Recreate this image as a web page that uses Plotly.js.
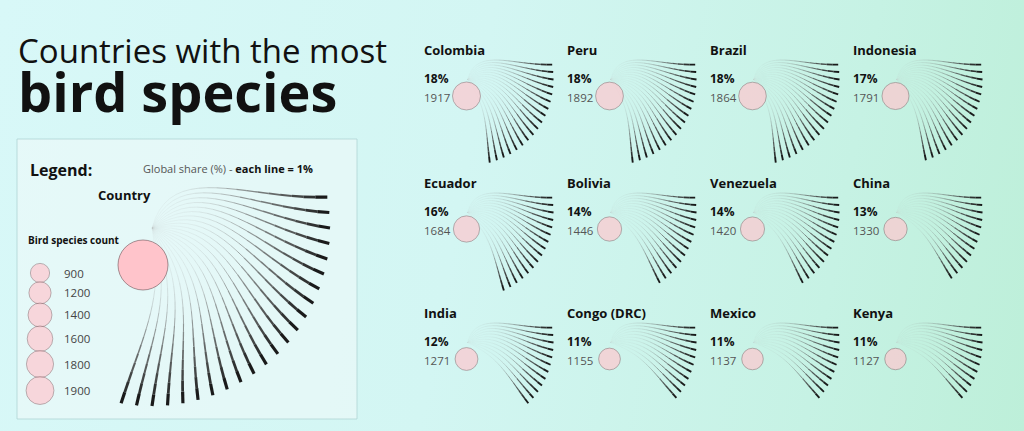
<!DOCTYPE html>
<html><head><meta charset="utf-8">
<script src="https://cdn.plot.ly/plotly-3.0.1.min.js"></script>
<style>
html,body{margin:0;padding:0;width:1024px;height:431px;overflow:hidden;}
body{background:linear-gradient(100deg,#d8f8f8 0%,#d3f6f3 45%,#c6f2e4 80%,#bdefd9 100%);}
#chart{width:1024px;height:431px;}
</style></head><body><div id="chart"></div>
<script>
// ---- data ----
const countries = ['Colombia','Peru','Brazil','Indonesia','Ecuador','Bolivia','Venezuela','China','India','Congo (DRC)','Mexico','Kenya'];
const sharePct = [18,18,18,17,16,14,14,13,12,11,11,11];
const speciesCount = [1917,1892,1864,1791,1684,1446,1420,1330,1271,1155,1137,1127];
const legendCounts = [900,1200,1400,1600,1800,1900];
const legendLineCount = 23;

// ---- layout constants ----
const FONT = '"Open Sans", "Noto Sans", sans-serif';
const colX = [422,565,708,851];
const rowY = [50,183,313];
const K = 20; // colour/width bands along each line
const SUB = 3;

function bez(p0,p1,p2,p3,t){const u=1-t;return u*u*u*p0+3*u*u*t*p1+3*u*t*t*p2+t*t*t*p3;}
function addFan(bands, ox, oy, r, n){
  for(let i=0;i<n;i++){
    const th=(-10+5*i)*Math.PI/180;
    const f = n>1 ? i/(n-1) : 0;
    const p0=(-10+5*i-65+45*f)*Math.PI/180;
    const p1=(-10+5*i+8)*Math.PI/180;
    const ex=ox+r*Math.cos(th), ey=oy+r*Math.sin(th);
    const c1x=ox+0.4*r*Math.cos(p0), c1y=oy+0.4*r*Math.sin(p0);
    const c2x=ex-0.45*r*Math.cos(p1), c2y=ey-0.45*r*Math.sin(p1);
    for(let k=0;k<K;k++){
      for(let s=0;s<=SUB;s++){
        const t=(k+s/SUB)/K;
        bands[k].x.push(bez(ox,c1x,c2x,ex,t));
        bands[k].y.push(bez(oy,c1y,c2y,ey,t));
      }
      bands[k].x.push(null);bands[k].y.push(null);
    }
  }
}
function makeBands(){const b=[];for(let k=0;k<K;k++)b.push({x:[],y:[]});return b;}
function bandTraces(bands,wmax){
  return bands.map((b,k)=>{
    const m=(k+0.5)/K;
    const w=wmax*(0.1+0.9*Math.pow(m,3));
    const g=Math.round(185-170*Math.pow(m,1.5));
    const a=(0.32+0.68*Math.pow(m,1.4)).toFixed(2);
    return {type:'scatter',mode:'lines',x:b.x,y:b.y,hoverinfo:'skip',
      line:{color:`rgba(${g},${g},${g},${a})`,width:w,shape:'linear'},showlegend:false};
  });
}

const smallBands=makeBands();
const circX=[],circY=[],circS=[];
const ann=[];
countries.forEach((c,idx)=>{
  const nx=colX[idx%4], ny=rowY[Math.floor(idx/4)];
  const ox=nx+45.5, oy=ny+29.5;
  addFan(smallBands,ox,oy,86,sharePct[idx]);
  circX.push(ox-1);circY.push(oy+16.5);circS.push(0.64*Math.sqrt(speciesCount[idx]));
  ann.push({x:nx,y:ny,text:'<b>'+c+'</b>',font:{size:13,color:'#111',family:FONT}});
  ann.push({x:nx,y:ny+28,text:'<b>'+sharePct[idx]+'%</b>',font:{size:12,color:'#111',family:FONT}});
  ann.push({x:nx,y:ny+47,text:String(speciesCount[idx]),font:{size:11.5,color:'#555',family:FONT}});
});

// legend fan
const legBands=makeBands();
const LOX=152, LOY=228;
addFan(legBands,LOX,LOY,178,legendLineCount);

// legend size circles
const lcX=[],lcY=[],lcS=[];
let yy=273;
legendCounts.forEach((v,i)=>{
  const d=0.64*Math.sqrt(v);
  if(i>0){yy+=0.96*(lcS[i-1]+d)/2;}
  lcX.push(40);lcY.push(yy);lcS.push(d);
  ann.push({x:62,y:yy,text:String(v),font:{size:11.5,color:'#444',family:FONT}});
});

ann.push({x:16,y:78,align:'left',
  text:'<span style="font-size:33px">Countries with the most</span><br><span style="font-size:54px;font-weight:bold">bird species</span>',
  font:{size:38,color:'#111',family:FONT}});
ann.push({x:28,y:170,text:'<b>Legend:</b>',font:{size:16,color:'#111',family:FONT}});
ann.push({x:141,y:168,text:'<span style="color:#555">Global share (%) - </span><b>each line = 1%</b>',font:{size:11,color:'#111',family:FONT}});
ann.push({x:96,y:195,text:'<b>Country</b>',font:{size:13,color:'#111',family:FONT}});
ann.push({x:26,y:240,text:'<b>Bird species count</b>',font:{size:10,color:'#111',family:FONT}});
ann.forEach(a=>{a.xref='x';a.yref='y';a.xanchor='left';a.yanchor='middle';a.showarrow=false;});

const circleLine={color:'rgba(110,80,85,0.75)',width:0.8};
const traces=[
  ...bandTraces(legBands,3.4),
  ...bandTraces(smallBands,2.0),
  {type:'scatter',mode:'markers',x:circX,y:circY,hoverinfo:'skip',showlegend:false,
    marker:{size:circS,color:'#ffc8cf',line:circleLine}},
  {type:'scatter',mode:'markers',x:lcX,y:lcY,hoverinfo:'skip',showlegend:false,
    marker:{size:lcS,color:'#ffc8cf',line:circleLine}},
  {type:'scatter',mode:'markers',x:[LOX-9],y:[LOY+37],hoverinfo:'skip',showlegend:false,
    marker:{size:50,color:'#ffc4cb',line:circleLine}}
];

const layout={
  width:1024,height:431,margin:{l:0,r:0,t:0,b:0},
  paper_bgcolor:'rgba(0,0,0,0)',plot_bgcolor:'rgba(0,0,0,0)',
  xaxis:{range:[0,1024],visible:false,fixedrange:true},
  yaxis:{range:[431,0],visible:false,fixedrange:true},
  showlegend:false,hovermode:false,
  annotations:ann,
  shapes:[{type:'rect',xref:'x',yref:'y',x0:17,y0:139,x1:357,y1:419,
    line:{color:'rgba(175,212,212,0.8)',width:1},fillcolor:'rgba(244,249,250,0.5)',layer:'below'}]
};
Plotly.newPlot('chart',traces,layout,{staticPlot:true,displayModeBar:false});
</script></body></html>
